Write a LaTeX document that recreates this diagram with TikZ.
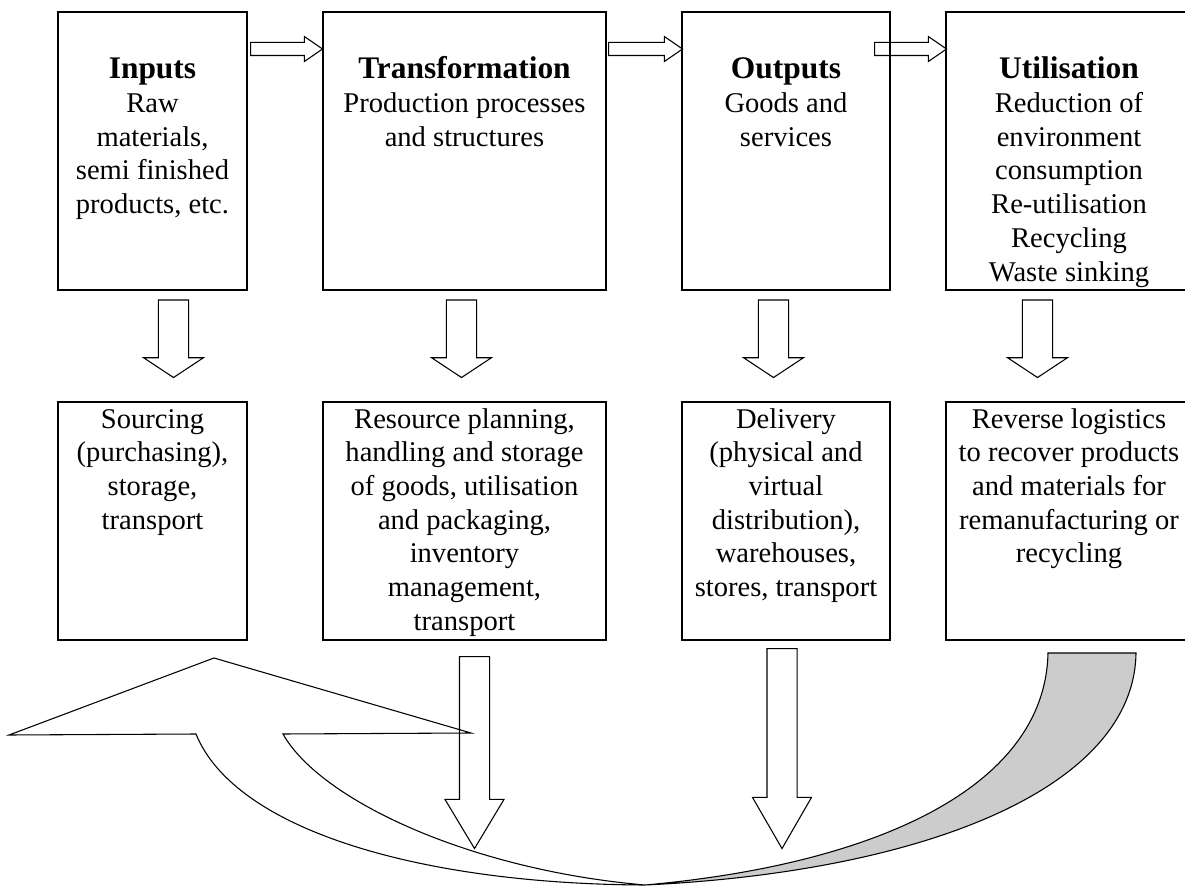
\documentclass[tikz,border=0pt]{standalone}
\usepackage{fontspec}
\setmainfont{Liberation Serif}
\usetikzlibrary{shapes.arrows}

\newcommand{\bodyfont}{\fontsize{12}{14.15}\selectfont}
\newcommand{\headfont}{\fontsize{13.2}{14.15}\selectfont\bfseries}
\newcommand{\uppertext}[2]{\parbox[c][116.76pt][t]{#1}{\centering\rule{0pt}{28.1pt}#2}}
\newcommand{\lowertext}[2]{\parbox[c][99.96pt][t]{#1}{\centering\rule{0pt}{10.92pt}#2}}

\begin{document}
\begin{tikzpicture}[x=0.42pt, y=0.42pt,
        stage/.style={draw, line width=0.6pt, inner sep=0pt, font=\bodyfont},
        flow/.style={single arrow, draw, line width=0.45pt,
                single arrow head indent=0pt, anchor=tail},
        across/.style={flow, inner sep=2.52pt, single arrow head extend=2.52pt,
                single arrow tip angle=69, minimum height=#1},
        stagedown/.style={flow, rotate=-90, inner sep=6.15pt,
                single arrow head extend=6.2pt, single arrow tip angle=113,
                minimum height=32.55pt},
        longdown/.style={flow, rotate=-90, inner sep=6.09pt,
                single arrow head extend=6.09pt}]
        \useasboundingbox (0, 0) rectangle (1185, 887);

        % return arrow
        \draw[line width=0.45pt, fill=white] (9, 152) -- (214, 229) -- (471, 154) -- (283, 153)
                .. controls (320, 87) and (470, 17) .. (645, 2)
                .. controls (420, 3) and (235, 57) .. (196, 153) -- cycle;
        \draw[line width=0.45pt, fill=black!20] (645, 2)
                .. controls (870, 22) and (1045, 97) .. (1048, 234) -- (1136, 234)
                .. controls (1134, 97) and (920, 15) .. (645, 2) -- cycle;

        % upper row
        \node[stage] (inputs) at (152.5, 736) {\uppertext{79.38pt}{{\headfont Inputs}\\Raw\\materials,\\semi finished\\products, etc.}};
        \node[stage] (transformation) at (464.5, 736) {\uppertext{118.86pt}{{\headfont Transformation}\\Production processes\\and structures}};
        \node[stage] (outputs) at (786, 736) {\uppertext{87.36pt}{{\headfont Outputs}\\Goods and\\services}};
        \node[stage] (utilisation) at (1069, 736) {\uppertext{103.32pt}{{\headfont Utilisation}\\Reduction of\\environment\\consumption\\Re-utilisation\\Recycling\\Waste sinking}};

        % lower row
        \node[stage] (sourcing) at (152.5, 366) {\lowertext{79.38pt}{Sourcing\\(purchasing),\\storage,\\transport}};
        \node[stage] (resource) at (464.5, 366) {\lowertext{118.86pt}{Resource planning,\\handling and storage\\of goods, utilisation\\and packaging,\\inventory\\management,\\transport}};
        \node[stage] (delivery) at (786, 366) {\lowertext{87.36pt}{Delivery\\(physical and\\virtual\\distribution),\\warehouses,\\stores, transport}};
        \node[stage] (reverse) at (1069, 366) {\lowertext{103.32pt}{Reverse logistics\\to recover products\\and materials for\\remanufacturing or\\recycling}};

        % flow arrows
        \node[across=30.24pt] (in2tr) at (250, 838) {};
        \node[across=31.08pt] (tr2out) at (608, 838) {};
        \node[across=30.24pt] (out2ut) at (874, 838) {};

        \node[stagedown] (in2src) at (173.5, 587.5) {};
        \node[stagedown] (tr2res) at (461.5, 587.5) {};
        \node[stagedown] (out2del) at (773.5, 587.5) {};
        \node[stagedown] (ut2rev) at (1037.5, 587.5) {};

        \node[longdown, minimum height=80.64pt, single arrow tip angle=62] (resdown) at (474.5, 231) {};
        \node[longdown, minimum height=84pt, single arrow tip angle=60] (deldown) at (782, 239) {};
    \end{tikzpicture}
\end{document}
